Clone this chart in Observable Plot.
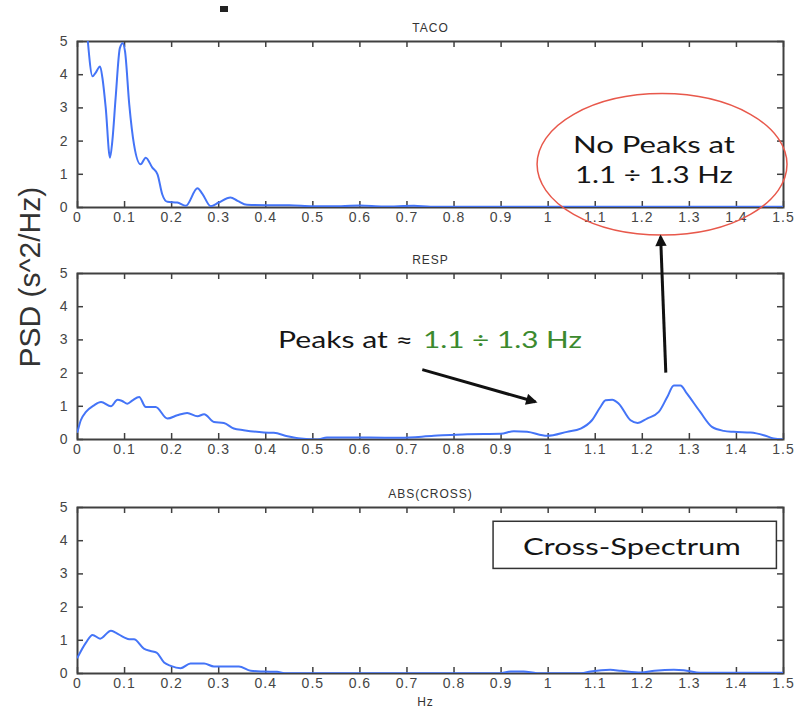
<!DOCTYPE html>
<html>
<head>
<meta charset="utf-8">
<script src="https://cdn.jsdelivr.net/npm/d3@7"></script>
<script src="https://cdn.jsdelivr.net/npm/@observablehq/plot@0.6"></script>
<style>
  body { margin: 0; background: #fff; }
  #fig { position: relative; width: 795px; height: 713px; overflow: hidden; background: #fff; }
  #fig > svg { position: absolute; left: 0; }
  #fig g[aria-label="x-axis tick label"] text,
  #fig g[aria-label="y-axis tick label"] text { letter-spacing: 1px; }
  #fig g[aria-label="text"].small text { letter-spacing: 1px; }
</style>
</head>
<body>
<div id="fig"></div>
<script>
// Frequency axis ticks (Hz) and PSD axis ticks
const xTicks = [0, 0.1, 0.2, 0.3, 0.4, 0.5, 0.6, 0.7, 0.8, 0.9, 1, 1.1, 1.2, 1.3, 1.4, 1.5];
const xTickLabels = ["0", "0.1", "0.2", "0.3", "0.4", "0.5", "0.6", "0.7", "0.8", "0.9", "1", "1.1", "1.2", "1.3", "1.4", "1.5"];
const yTicks = [0, 1, 2, 3, 4, 5];
const yTickLabels = ["0", "1", "2", "3", "4", "5"];
const panelTitles = ["TACO", "RESP", "ABS(CROSS)"];

// TACO spectrum
const tacoHz  = [0.022, 0.032, 0.038, 0.048, 0.053, 0.060, 0.069, 0.074, 0.081, 0.090, 0.096, 0.101, 0.110, 0.120, 0.134, 0.145, 0.159, 0.170, 0.180, 0.191, 0.212, 0.230, 0.255, 0.265, 0.283, 0.300, 0.325, 0.340, 0.360, 0.400, 0.450, 0.500, 0.560, 0.600, 0.650, 0.715, 0.750, 0.900, 1.100, 1.300, 1.500];
const tacoPsd = [5.00, 3.95, 4.05, 4.25, 3.90, 3.00, 1.50, 2.00, 3.30, 4.80, 4.95, 4.70, 3.10, 1.90, 1.30, 1.50, 1.20, 1.00, 0.40, 0.17, 0.15, 0.05, 0.58, 0.42, 0.04, 0.15, 0.30, 0.20, 0.08, 0.07, 0.07, 0.04, 0.04, 0.06, 0.03, 0.05, 0.02, 0.02, 0.02, 0.02, 0.02];

// RESP spectrum
const respHz  = [0.000, 0.007, 0.018, 0.035, 0.050, 0.071, 0.085, 0.095, 0.106, 0.117, 0.131, 0.145, 0.166, 0.191, 0.212, 0.233, 0.255, 0.269, 0.290, 0.311, 0.332, 0.353, 0.396, 0.417, 0.446, 0.474, 0.510, 0.530, 0.620, 0.686, 0.757, 0.828, 0.899, 0.927, 0.955, 0.998, 1.040, 1.069, 1.093, 1.111, 1.122, 1.136, 1.150, 1.175, 1.190, 1.210, 1.235, 1.253, 1.267, 1.281, 1.295, 1.323, 1.348, 1.373, 1.394, 1.430, 1.458, 1.479, 1.500];
const respPsd = [0.23, 0.58, 0.83, 1.03, 1.13, 1.00, 1.20, 1.16, 1.08, 1.18, 1.28, 0.98, 0.98, 0.63, 0.73, 0.80, 0.70, 0.76, 0.53, 0.50, 0.33, 0.28, 0.21, 0.20, 0.10, 0.03, 0.00, 0.06, 0.06, 0.05, 0.11, 0.16, 0.17, 0.25, 0.23, 0.11, 0.23, 0.33, 0.58, 0.98, 1.18, 1.20, 1.08, 0.58, 0.50, 0.63, 0.83, 1.28, 1.63, 1.63, 1.38, 0.83, 0.38, 0.26, 0.23, 0.21, 0.13, 0.03, 0.00];

// |cross-spectrum|
const crossHz  = [0.000, 0.018, 0.032, 0.048, 0.071, 0.081, 0.100, 0.110, 0.120, 0.141, 0.155, 0.168, 0.184, 0.198, 0.219, 0.240, 0.269, 0.290, 0.318, 0.343, 0.368, 0.396, 0.424, 0.440, 0.600, 0.900, 0.920, 0.948, 0.976, 1.070, 1.090, 1.132, 1.155, 1.197, 1.226, 1.267, 1.288, 1.323, 1.500];
const crossPsd = [0.48, 0.93, 1.16, 1.05, 1.29, 1.23, 1.08, 1.03, 1.03, 0.75, 0.68, 0.63, 0.33, 0.23, 0.16, 0.30, 0.30, 0.21, 0.21, 0.21, 0.08, 0.06, 0.05, 0.01, 0.01, 0.01, 0.06, 0.06, 0.01, 0.01, 0.06, 0.11, 0.08, 0.03, 0.08, 0.11, 0.10, 0.02, 0.02];

const W = 795, ML = 77, MR = 12, INNER_W = W - ML - MR, INNER_H = 166;
const axisColor = "#404040";
const lineColor = "#4474f7";
const fig = document.getElementById("fig");

function panel({hz, psd, title, top, height, marginTop, extra = []}) {
  const rows = hz.map((h, i) => ({hz: h, psd: psd[i]}));
  const marginBottom = height - marginTop - INNER_H;
  const svg = Plot.plot({
    width: W, height, marginLeft: ML, marginRight: MR, marginTop, marginBottom,
    x: {domain: [0, 1.5], label: null},
    y: {domain: [0, 5], label: null},
    style: {fontFamily: "'Liberation Sans', Arial, sans-serif", fontSize: "14px", color: "#444", background: "transparent", overflow: "visible"},
    marks: [
      Plot.axisX(xTicks, {anchor: "bottom", tickSize: 0, tickPadding: 5, fontSize: 14, fill: "#454545",
        tickFormat: d => xTickLabels[xTicks.indexOf(d)]}),
      Plot.axisY(yTicks, {anchor: "left", tickSize: 0, tickPadding: 9, fontSize: 14, fill: "#454545",
        tickFormat: d => yTickLabels[yTicks.indexOf(d)]}),
      // inward ticks on all four sides
      Plot.tickX(xTicks, {x: d => d, insetBottom: INNER_H - 6, stroke: axisColor, strokeWidth: 1.5}),
      Plot.tickX(xTicks, {x: d => d, insetTop: INNER_H - 6, stroke: axisColor, strokeWidth: 1.5}),
      Plot.tickY(yTicks, {y: d => d, insetRight: INNER_W - 6, stroke: axisColor, strokeWidth: 1.5}),
      Plot.tickY(yTicks, {y: d => d, insetLeft: INNER_W - 6, stroke: axisColor, strokeWidth: 1.5}),
      Plot.frame({stroke: axisColor, strokeWidth: 2}),
      Plot.line(rows, {x: "hz", y: "psd", stroke: lineColor, strokeWidth: 2, curve: "monotone-x", clip: true}),
      Plot.text([title], {frameAnchor: "top", dy: -18, fontSize: 12, fill: "#333", className: "small"}),
      ...extra
    ]
  });
  svg.style.top = top + "px";
  fig.appendChild(svg);
  return {svg, top, x: svg.scale("x").apply, y: svg.scale("y").apply};
}

const pTaco = panel({hz: tacoHz, psd: tacoPsd, title: panelTitles[0], top: 0, height: 230, marginTop: 41});
const pResp = panel({hz: respHz, psd: respPsd, title: panelTitles[1], top: 230, height: 230, marginTop: 43,
  extra: [Plot.text(["PSD (s^2/Hz)"], {frameAnchor: "left", dx: -47, dy: 11, rotate: -90, fontSize: 30, fill: "#333"})]});
const pCross = panel({hz: crossHz, psd: crossPsd, title: panelTitles[2], top: 460, height: 253, marginTop: 47,
  extra: [Plot.text(["Hz"], {frameAnchor: "bottom", dx: -5, dy: 32, fontSize: 12, fill: "#333", className: "small"})]});

// Annotation layer, positioned through each panel's scales
const X = (p, v) => p.x(v);
const Y = (p, v) => p.top + p.y(v);
const over = d3.select(fig).append("svg")
  .attr("width", W).attr("height", 713)
  .style("top", "0px").style("pointer-events", "none");

over.append("defs").append("marker")
  .attr("id", "head").attr("viewBox", "0 0 10 10")
  .attr("refX", 8).attr("refY", 5)
  .attr("markerWidth", 4.4).attr("markerHeight", 3.8)
  .attr("orient", "auto")
  .append("path").attr("d", "M0,0 L10,5 L0,10 z").attr("fill", "#111");

const noteFont = "Lato, 'Open Sans', sans-serif";

// stray mark above the first panel
over.append("rect").attr("x", 220).attr("y", 6).attr("width", 8).attr("height", 6).attr("fill", "#222");

// red ellipse over TACO around 1.1–1.3 Hz
const ecx = 1.243, ecy = 1.285;
over.append("ellipse")
  .attr("cx", X(pTaco, ecx)).attr("cy", Y(pTaco, ecy))
  .attr("rx", X(pTaco, ecx + 0.2655) - X(pTaco, ecx))
  .attr("ry", Y(pTaco, ecy - 2.13) - Y(pTaco, ecy))
  .attr("fill", "none").attr("stroke", "#e8584b").attr("stroke-width", 1.5);

function note(p, hz, psd, str, len, fill, anchor = "middle") {
  over.append("text")
    .attr("x", X(p, hz)).attr("y", Y(p, psd))
    .attr("text-anchor", anchor)
    .attr("textLength", len).attr("lengthAdjust", "spacingAndGlyphs")
    .attr("font-family", noteFont).attr("font-size", 24)
    .attr("fill", fill).text(str);
}
note(pTaco, 1.2258, 1.63, "No Peaks at", 162, "#151515");
note(pTaco, 1.2258, 0.72, "1.1 \u00f7 1.3 Hz", 158, "#151515");

note(pResp, 0.4270, 2.73, "Peaks at \u2248", 135, "#151515", "start");
note(pResp, 0.7350, 2.73, "1.1 \u00f7 1.3 Hz", 159, "#3c8a2e", "start");

function arrow(p, h1, v1, h2, v2) {
  over.append("line")
    .attr("x1", X(p, h1)).attr("y1", Y(p, v1))
    .attr("x2", X(p, h2)).attr("y2", Y(p, v2))
    .attr("stroke", "#111").attr("stroke-width", 3)
    .attr("marker-end", "url(#head)");
}
arrow(pResp, 0.7336, 2.09, 0.9737, 1.12);
arrow(pResp, 1.251, 2.0, 1.240, 6.09);

// Cross-Spectrum label box
over.append("rect")
  .attr("x", X(pCross, 0.884)).attr("y", Y(pCross, 4.57))
  .attr("width", X(pCross, 1.486) - X(pCross, 0.884))
  .attr("height", Y(pCross, 3.15) - Y(pCross, 4.57))
  .attr("fill", "#fff").attr("stroke", "#333").attr("stroke-width", 1.5);
note(pCross, 1.179, 3.55, "Cross-Spectrum", 218, "#151515");
</script>
</body>
</html>
